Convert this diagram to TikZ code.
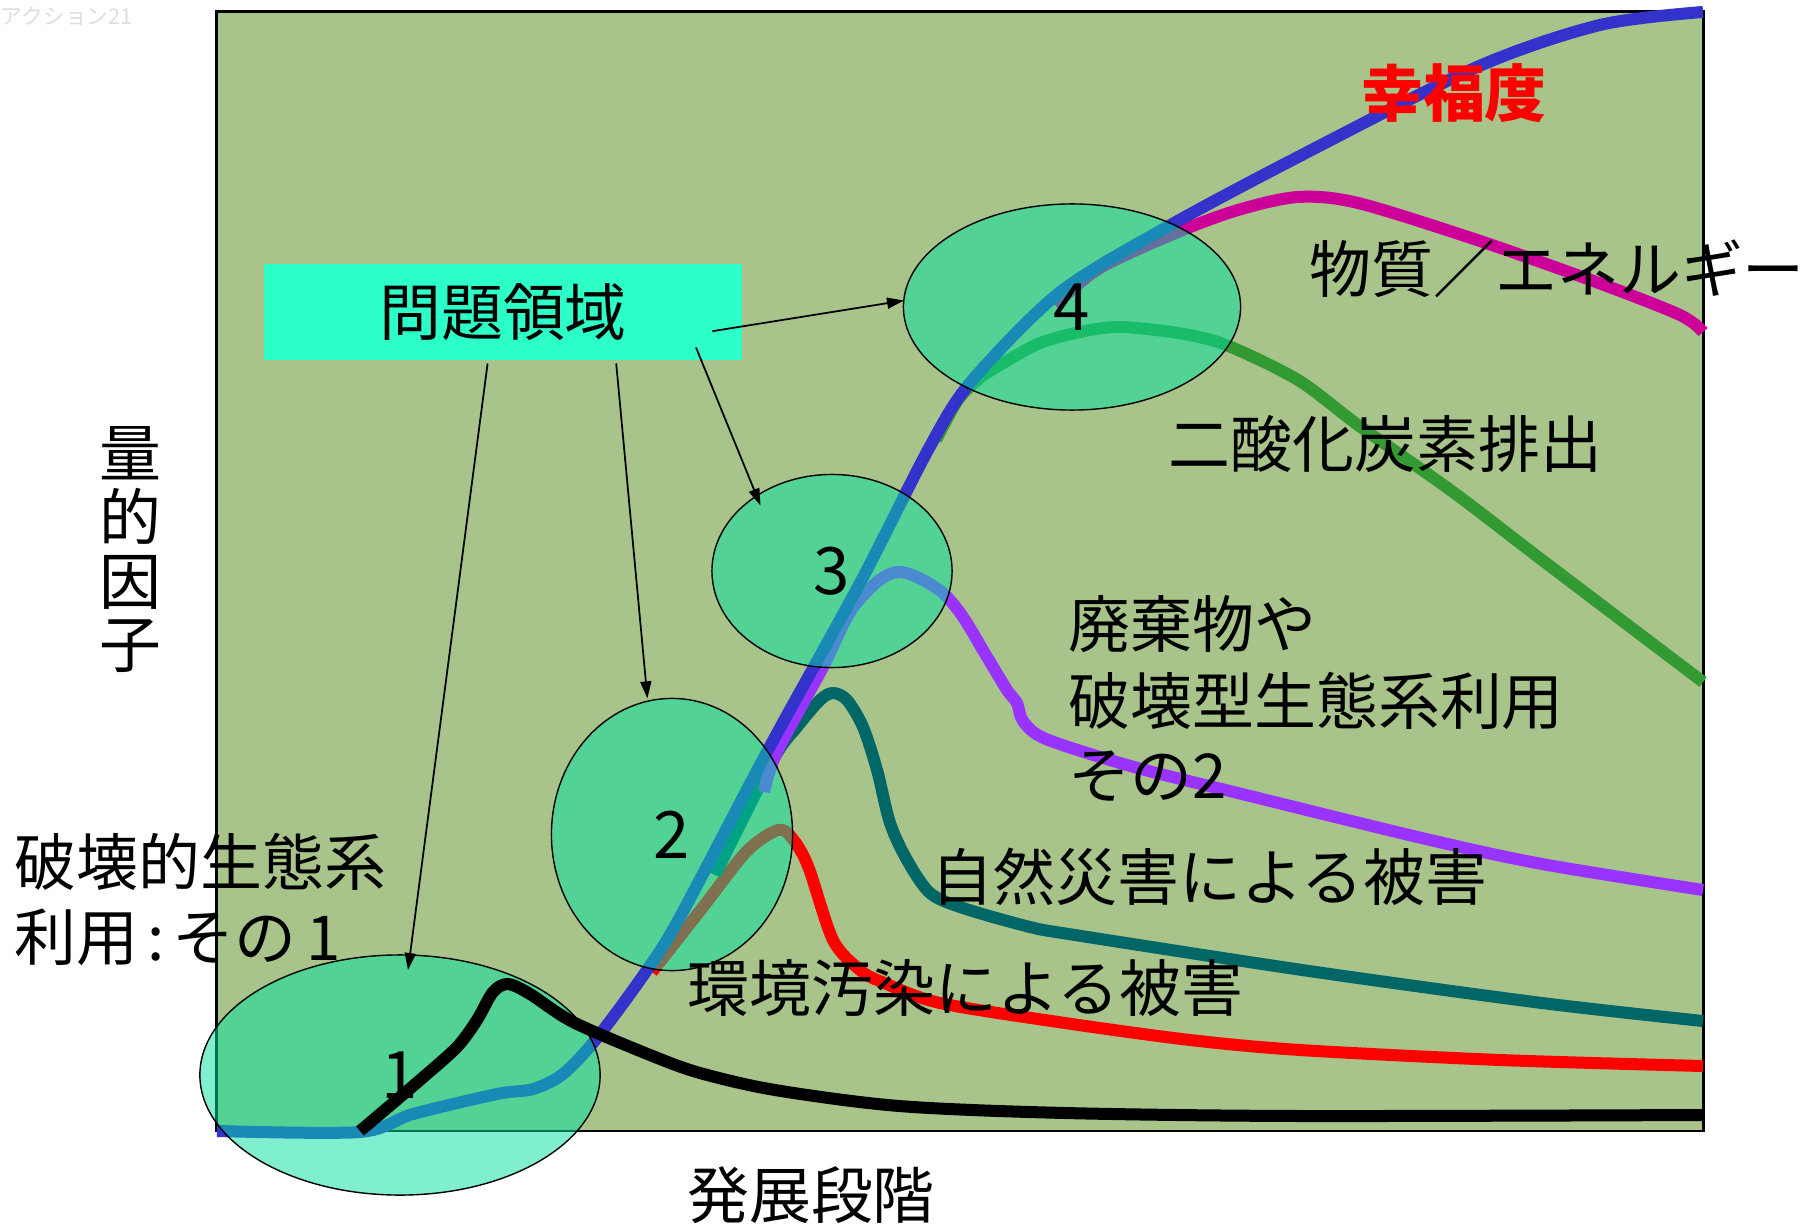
\documentclass[tikz,border=0pt]{standalone}
\usepackage{fontspec}
\setmainfont{Noto Sans CJK JP}
\usetikzlibrary{shapes.geometric,arrows.meta}
\definecolor{bggreen}{RGB}{168,196,138}
\definecolor{boxcol}{RGB}{44,255,200}
\definecolor{ellcol}{RGB}{0,225,160}
\definecolor{cblue}{RGB}{51,51,204}
\definecolor{cred}{RGB}{255,0,0}
\definecolor{cteal}{RGB}{0,102,102}
\definecolor{cpurple}{RGB}{153,51,255}
\definecolor{cmagenta}{RGB}{204,0,153}
\definecolor{cgreen}{RGB}{51,153,51}
\definecolor{wmark}{RGB}{222,222,222}
\tikzset{
  curve/.style={line width=0.12cm, line join=round},
  zone/.style={ellipse, draw=black, line width=0.4pt, fill=ellcol, fill opacity=0.5, text opacity=1, inner sep=0pt, font=\fontsize{18.6pt}{20pt}\selectfont},
  lbl/.style={inner sep=0pt, anchor=west, font=\fontsize{17.6pt}{21pt}\selectfont},
  pointer/.style={line width=0.5pt, -{Triangle[length=0.17cm,width=0.11cm]}}
}
\begin{document}
\begin{tikzpicture}[x=0.01cm,y=-0.01cm]
\useasboundingbox (0,0) rectangle (1816,1225);
\fill[white] (0,0) rectangle (1816,1225);
% plot area
\draw[fill=bggreen, line width=0.6pt] (216.5,11.5) rectangle (1703.5,1131);
% watermark
\node[inner sep=0pt, anchor=west, text=wmark, font=\fontsize{6.2pt}{7pt}\selectfont] (wm) at (0,16) {アクション21};
% curves
\draw[curve, cred] plot[smooth, tension=0.5] coordinates {(652,972) (703,907) (747,851) (778,830) (792,838) (808,866) (833,940) (860,970) (882,982) (940,1003) (1065,1023) (1190,1040) (1300,1050) (1500,1060) (1703,1066)};
\draw[curve, cteal] plot[smooth, tension=0.5] coordinates {(715,875) (773,760) (797,727) (820,700) (833,693) (847,700) (863,727) (877,770) (890,823) (907,860) (930,893) (963,908) (1030,927) (1075,935) (1309,971) (1542,1003) (1703,1021)};
\draw[curve, cpurple] plot[smooth, tension=0.5] coordinates {(764,792) (777,752) (823,667) (850,612) (877,582) (897,572) (917,577) (943,593) (963,617) (987,657) (1007,690) (1017,703) (1023,721) (1046,739) (1134,767) (1250,796) (1426,839) (1542,864) (1703,890)};
\draw[curve, cmagenta] plot[smooth, tension=0.5] coordinates {(1055,305) (1100,268) (1178,232) (1238,210) (1298,197) (1358,203) (1477,240) (1596,282) (1680,315) (1703,332)};
\draw[curve, cgreen] plot[smooth, tension=0.5] coordinates {(936,440) (958,400) (980,378) (1005,362) (1040,343) (1080,332) (1119,327) (1178,333) (1226,345) (1298,380) (1358,425) (1453,492) (1542,560) (1703,682)};
\draw[curve, cblue] plot[smooth, tension=0.5] coordinates {(217,1131) (360,1132) (413,1114) (497,1094) (533,1089) (563,1074) (597,1038) (647,970) (680,917) (768,750) (860,583) (928,450) (970,383) (1059,293) (1167,227) (1298,157) (1477,67) (1600,25) (1703,12)};
% problem box
\node[fill=boxcol, minimum width=4.78cm, minimum height=0.96cm, inner sep=0pt, font=\fontsize{17.6pt}{21pt}\selectfont] (box) at (503,312) {問題領域};
% zones
\node[zone, minimum width=4.00cm, minimum height=2.40cm] (e1) at (400,1075) {1};
\node[zone, minimum width=2.41cm, minimum height=2.72cm] (e2) at (672,834.5) {2};
\node[zone, minimum width=2.40cm, minimum height=1.93cm] (e3) at (832,571) {3};
\node[zone, minimum width=3.37cm, minimum height=2.06cm] (e4) at (1072,307) {4};
% black curve on top
\draw[curve, black] plot[smooth, tension=0.5] coordinates {(360,1131) (420,1080) (457,1047) (477,1020) (493,992) (508,984) (530,994) (573,1022) (650,1055) (700,1073) (775,1090) (899,1106) (1065,1113) (1300,1116) (1703,1115)};
% pointers
\coordinate (s1) at (487.6,363.5);
\coordinate (s2) at (616.2,363.5);
\coordinate (s3) at (696,347.5);
\coordinate (s4) at (712.3,331.2);
\coordinate (t1) at (408,970);
\coordinate (t2) at (647.4,698.4);
\coordinate (t3) at (760.5,505.5);
\coordinate (t4) at (904,300.5);
\draw[pointer] (s1) -- (t1);
\draw[pointer] (s2) -- (t2);
\draw[pointer] (s3) -- (t3);
\draw[pointer] (s4) -- (t4);
% labels
\node[lbl, anchor=center, text=cred, font=\fontsize{17.6pt}{21pt}\selectfont\bfseries] (happy) at (1454,93) {幸福度};
\node[lbl] (mat) at (1309,269) {物質／エネルギー};
\node[lbl] (co2) at (1168,444) {二酸化炭素排出};
\node[lbl] (w1) at (1068,624) {廃棄物や};
\node[lbl] (w2) at (1068,701) {破壊型生態系利用};
\node[lbl] (w3) at (1068,776) {その2};
\node[lbl] (nat) at (931,877) {自然災害による被害};
\node[lbl] (pol) at (687,988) {環境汚染による被害};
\node[lbl] (d1) at (14,862) {破壊的生態系};
\node[lbl] (d2) at (14,937) {利用\hspace{0.09cm}:\hspace{0.08cm}その\hspace{0.1cm}1};
\node[lbl, anchor=center, align=center, font=\fontsize{17.6pt}{18.1pt}\selectfont] (yax) at (130,550) {量\\的\\因\\子};
\node[lbl, anchor=center] (xax) at (811,1195) {発展段階};
\end{tikzpicture}
\end{document}
